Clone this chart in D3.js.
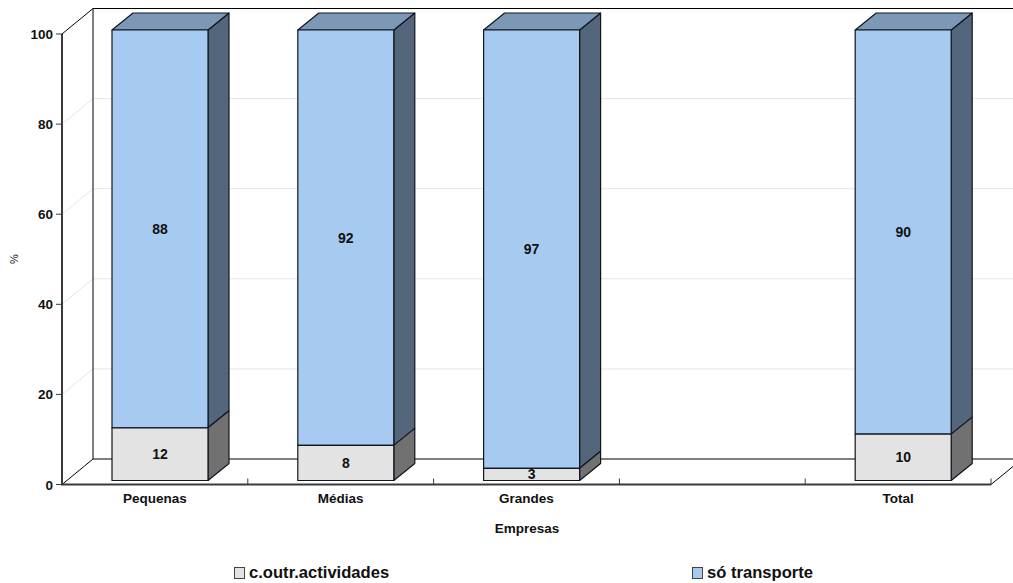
<!DOCTYPE html>
<html><head><meta charset="utf-8">
<script src="https://cdn.jsdelivr.net/npm/d3@7"></script>
<style>
html,body{margin:0;padding:0;background:#fff}
svg{display:block}
text{font-family:"Liberation Sans",Arial,sans-serif;font-weight:bold;fill:#111}
</style></head><body><svg id="c" width="1013" height="583"></svg>
<script>
const categories=["Pequenas","Médias","Grandes","","Total"];
const outrasValues=[11.7,7.8,2.7,null,10.3];
const transporteValues=[88.3,92.2,97.3,null,89.7];
const yTicks=[0,20,40,60,80,100];
const seriesNames=["c.outr.actividades","só transporte"];
const xTitle="Empresas", yTitle="%";

const svg=d3.select("#c");
const L=62,R=991,Y0=484.5,Y100=34,DX=31,DY=25.5;
const x=d3.scaleBand().domain(categories.map((c,i)=>i)).range([L,R]).paddingInner(0).paddingOuter(0);
const y=d3.scaleLinear().domain([0,100]).range([Y0,Y100]);

// walls and grid
const grid=svg.append("g");
yTicks.filter(t=>t>0&&t<100).forEach(t=>{
  grid.append("path").attr("d",`M${L},${y(t)}L${L+DX},${y(t)-DY}H1013`).attr("fill","none").attr("stroke","#e6e6e6").attr("stroke-width",1);
});
const wall=svg.append("g").attr("fill","none").attr("stroke","#000").attr("stroke-width",1);
wall.append("path").attr("d",`M${L},${y(100)}L${L+DX},${y(100)-DY}H1013`);
wall.append("path").attr("d",`M${L+DX},${y(100)-DY}V${y(0)-DY}`);
wall.append("path").attr("d",`M${L},${y(0)}L${L+DX},${y(0)-DY}`);
wall.append("path").attr("d",`M${L+DX},${y(0)-DY}H1013`).attr("stroke-width",1.2);
wall.append("path").attr("d",`M${R},${y(0)}L1013,${y(0)-18}`);

// bars
const barW=96,barOff=50,bdx=21,bdy=17,lift=4;
const bar=svg.append("g");
function box(x0,v0,v1,front,side,top){
  const a=y(v0)-lift,b=y(v1)-lift,x1=x0+barW;
  const g=bar.append("g").attr("stroke","#10161f").attr("stroke-width",1.2).attr("stroke-linejoin","round");
  g.append("path").attr("d",`M${x1},${a}L${x1+bdx},${a-bdy}V${b-bdy}L${x1},${b}Z`).attr("fill",side);
  if(top) g.append("path").attr("d",`M${x0},${b}L${x0+bdx},${b-bdy}H${x1+bdx}L${x1},${b}Z`).attr("fill",top);
  g.append("rect").attr("x",x0).attr("y",b).attr("width",barW).attr("height",a-b).attr("fill",front);
}
const fmt=d3.format(".0f");
const labels=[];
categories.forEach((c,i)=>{
  if(outrasValues[i]==null) return;
  const x0=x(i)+barOff, o=outrasValues[i], t=transporteValues[i];
  box(x0,o,o+t,"#a6caf0","#53667c","#7c98b6");
  box(x0,0,o,"#e3e3e3","#717171",null);
  labels.push([x0+barW/2,y(o/2)-lift,o]);
  labels.push([x0+barW/2,y(o+t/2)-lift,t]);
});
svg.append("g").selectAll("text").data(labels).join("text")
  .attr("x",d=>d[0]).attr("y",d=>d[1]+5).attr("text-anchor","middle").attr("font-size",14).text(d=>fmt(d[2]));

// axes
const ax=svg.append("g").attr("stroke","#3a3a3a");
ax.append("line").attr("x1",L).attr("x2",L).attr("y1",y(100)).attr("y2",y(0)).attr("stroke-width",2);
ax.append("line").attr("x1",L-1).attr("x2",R).attr("y1",y(0)).attr("y2",y(0)).attr("stroke-width",2);
yTicks.forEach(t=>{
  ax.append("line").attr("x1",L-6).attr("x2",L).attr("y1",y(t)).attr("y2",y(t)).attr("stroke-width",1);
  svg.append("text").attr("x",L-9).attr("y",y(t)+5).attr("text-anchor","end").attr("font-size",13.5).text(t);
});
categories.forEach((c,i)=>{
  const xr=x(i)+x.bandwidth();
  ax.append("line").attr("x1",xr).attr("x2",xr).attr("y1",y(0)).attr("y2",y(0)-6).attr("stroke-width",1);
  if(c) svg.append("text").attr("x",x(i)+x.bandwidth()/2).attr("y",503).attr("text-anchor","middle").attr("font-size",13.5).text(c);
});
svg.append("text").attr("x",527).attr("y",533).attr("text-anchor","middle").attr("font-size",13.5).text(xTitle);
svg.append("text").attr("transform","translate(18,259) rotate(-90)").attr("text-anchor","middle").attr("font-size",11).style("font-weight","normal").text(yTitle);

// legend
const lg=svg.append("g");
[[234,"#e3e3e3"],[692,"#a6caf0"]].forEach((d,i)=>{
  lg.append("rect").attr("x",d[0]+.5).attr("y",567.5).attr("width",10).attr("height",11).attr("fill",d[1]).attr("stroke","#444").attr("stroke-width",1);
  lg.append("text").attr("x",d[0]+15).attr("y",578).attr("font-size",16.6).text(seriesNames[i]);
});
</script></body></html>
